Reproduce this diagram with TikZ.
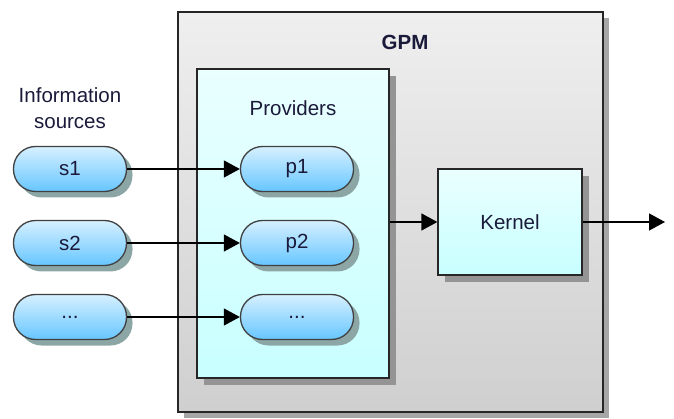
\documentclass[tikz,border=0pt]{standalone}
\usepackage{fontspec}
\setmainfont{Liberation Sans}
\usetikzlibrary{
    arrows.meta,
    positioning,
    shadows,
}
\definecolor{txtcol}{HTML}{1A1A3A}
\definecolor{pilltop}{HTML}{D6F0FF}
\definecolor{pillbot}{HTML}{66C6FF}
\definecolor{pillshadow}{HTML}{8CA6A6}
\definecolor{boxtop}{HTML}{EAFFFF}
\definecolor{boxbot}{HTML}{C8FFFF}
\definecolor{gpmtop}{HTML}{EFEFEF}
\definecolor{gpmbot}{HTML}{CFCFCF}

\begin{document}
\begin{tikzpicture}[x=1pt, y=-1pt,
        font=\fontsize{20.5}{26}\selectfont, text=txtcol,
        every path/.style={line width=1.3pt},
        pill/.style={draw=black!75, rounded corners=22pt, minimum width=113pt,
            minimum height=45pt, top color=pilltop, bottom color=pillbot,
            drop shadow={shadow xshift=6pt, shadow yshift=-6pt, fill=pillshadow, opacity=1}},
        block/.style={draw=black!85, top color=boxtop, bottom color=boxbot,
            drop shadow={shadow xshift=7pt, shadow yshift=-7pt, fill=black!42, opacity=1}},
        arr/.style={-{Triangle[length=16pt,width=17pt]}, black},
    ]
        \useasboundingbox (0,0) rectangle (674,419);
        % outer box
        \node[draw=black!85, top color=gpmtop, bottom color=gpmbot,
            minimum width=425pt, minimum height=400pt,
            drop shadow={shadow xshift=6pt, shadow yshift=-6pt, fill=black!35, opacity=1}]
            (gpm) at (390.5,212) {};
        \node[font=\fontsize{20.5}{26}\selectfont\bfseries] (gpmlbl) at (405,42) {GPM};
        % providers and kernel
        \node[block, minimum width=192pt, minimum height=309pt] (prov) at (293,223.5) {};
        \node (provlbl) at (293,108) {Providers};
        \node[block, minimum width=144pt, minimum height=106pt] (kernel) at (510,222) {Kernel};
        % sources
        \node[align=center] (srclbl) at (70,108) {Information\\sources};
        \node[pill] (s1) at (70,169) {s1};
        \node[pill] (s2) at (70,243) {s2};
        \node[pill] (s3) at (70,317) {...};
        \node[pill] (p1) at (297,169) {p1};
        \node[pill] (p2) at (297,243) {p2};
        \node[pill] (p3) at (297,317) {...};
        \coordinate (out) at (665,222);
        % connections
        \draw[arr] (s1) -- (p1);
        \draw[arr] (s2) -- (p2);
        \draw[arr] (s3) -- (p3);
        \draw[arr] (prov.east |- kernel.west) -- (kernel.west);
        \draw[arr] (kernel.east) -- (out);
    \end{tikzpicture}
\end{document}
